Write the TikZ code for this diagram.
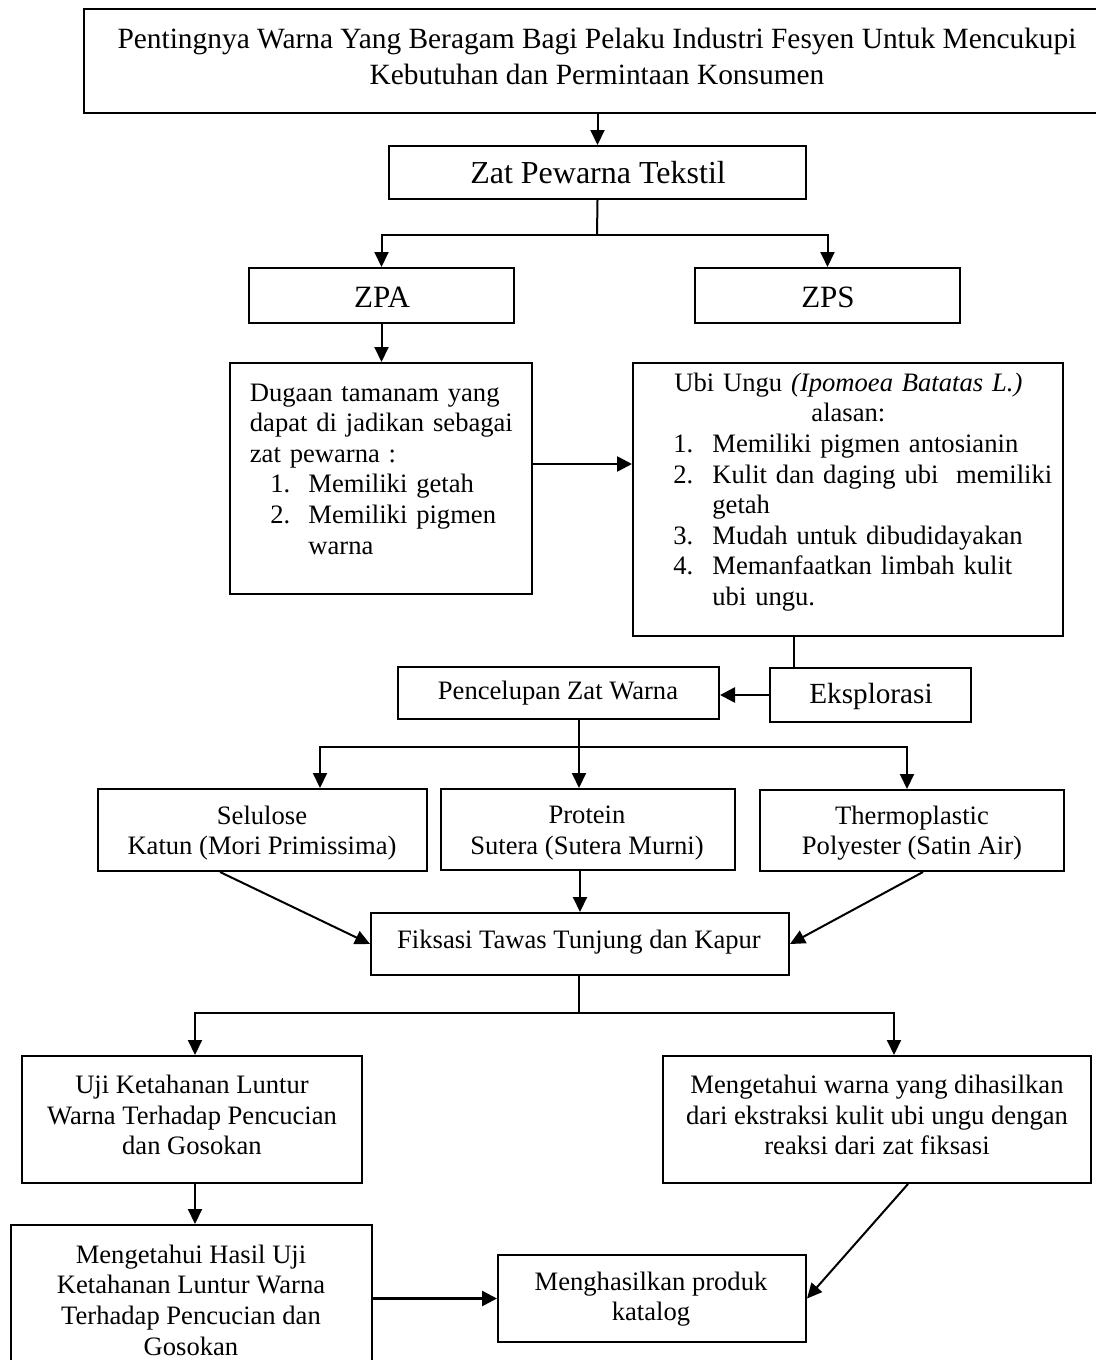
\documentclass[tikz,border=0pt]{standalone}
\usepackage{fontspec}
\setmainfont{Liberation Serif}
\usetikzlibrary{arrows.meta,fit,calc}
\tikzset{
  box/.style={draw, line width=1pt, inner sep=0pt},
  txt/.style={inner sep=0pt, align=center, font=\fontsize{13.3}{15.3}\selectfont},
  bigtxt/.style={inner sep=0pt, align=center, font=\fontsize{16}{18}\selectfont},
  conn/.style={line width=1pt},
  arr/.style={line width=1pt, -{Triangle[length=7.5pt,width=7pt]}},
  thickarr/.style={line width=1.3pt, -{Triangle[length=7.5pt,width=7.5pt]}},
}
\begin{document}
\begin{tikzpicture}[x=0.5pt,y=-0.5pt]
\useasboundingbox (0,0) rectangle (1096,1360);
\clip (0,0) rectangle (1096,1360);
\fill[white] (0,0) rectangle (1096,1360);

% boxes
\node[box, line width=1.4pt, fit={(84,9)(1110,113)}] (top) {};
\node[box, fit={(389,146)(806,199)}] (zat) {};
\node[box, fit={(249,268)(514,323)}] (zpa) {};
\node[box, fit={(695,268)(960,323)}] (zps) {};
\node[box, fit={(230,363)(532,594)}] (dug) {};
\node[box, fit={(633,363)(1063,636)}] (ubi) {};
\node[box, fit={(398,667)(719,719)}] (pen) {};
\node[box, fit={(770,668)(971,722)}] (eks) {};
\node[box, fit={(98,789)(427,871)}] (sel) {};
\node[box, fit={(441,789)(735,870)}] (pro) {};
\node[box, fit={(760,790)(1064,871)}] (the) {};
\node[box, fit={(371,913)(789,975)}] (fik) {};
\node[box, fit={(22,1056)(362,1183)}] (uji) {};
\node[box, fit={(663,1056)(1091,1183)}] (mw) {};
\node[box, fit={(11,1225)(372,1390)}] (has) {};
\node[box, fit={(498,1255)(806,1342)}] (men) {};

% texts
\node[inner sep=0pt, align=center, font=\fontsize{14.7}{18}\selectfont] (ttop) at (597,56)
  {Pentingnya Warna Yang Beragam Bagi Pelaku Industri Fesyen Untuk Mencukupi\\Kebutuhan dan Permintaan Konsumen};
\node[bigtxt] (tzat) at (598,173) {Zat Pewarna Tekstil};
\node[bigtxt, font=\fontsize{15.5}{18}\selectfont] (tzpa) at (382,297) {ZPA};
\node[bigtxt, font=\fontsize{15.5}{18}\selectfont] (tzps) at (828,297) {ZPS};
\node[txt, anchor=west, align=left, text width=130pt] (tdug) at (249.5,469)
  {\makebox[130pt][s]{Dugaan tamanam yang}\\
   \makebox[130pt][s]{dapat di jadikan sebagai}\\
   zat pewarna :\\
   \hspace*{10.25pt}\makebox[19pt][l]{1.}Memiliki getah\\
   \hspace*{10.25pt}\makebox[19pt][l]{2.}Memiliki pigmen\\
   \hspace*{29.25pt}warna};
\node[txt, anchor=west, align=left, text width=190pt] (tubi) at (673,492)
  {\makebox[175pt][c]{Ubi Ungu \textit{(Ipomoea Batatas L.)}}\\
   \makebox[175pt][c]{alasan:}\\
   \makebox[19.5pt][l]{1.}Memiliki pigmen antosianin\\
   \makebox[19.5pt][l]{2.}Kulit dan daging ubi \ memiliki\\
   \hspace*{19.5pt}getah\\
   \makebox[19.5pt][l]{3.}Mudah untuk dibudidayakan\\
   \makebox[19.5pt][l]{4.}Memanfaatkan limbah kulit\\
   \hspace*{19.5pt}ubi ungu.};
\node[txt] (tpen) at (558,693) {Pencelupan Zat Warna};
\node[txt, font=\fontsize{14.6}{16}\selectfont] (teks) at (871,696) {Eksplorasi};
\node[txt] (tsel) at (262,833) {Selulose\\Katun (Mori Primissima)};
\node[txt] (tpro) at (587,833) {Protein\\Sutera (Sutera Murni)};
\node[txt] (tthe) at (912,833) {Thermoplastic\\Polyester (Satin Air)};
\node[txt] (tfik) at (579,942) {Fiksasi Tawas Tunjung dan Kapur};
\node[txt] (tuji) at (192,1115) {Uji Ketahanan Luntur\\Warna Terhadap Pencucian\\dan Gosokan};
\node[txt] (tmw) at (877,1115) {Mengetahui warna yang dihasilkan\\dari ekstraksi kulit ubi ungu dengan\\reaksi dari zat fiksasi};
\node[txt] (thas) at (191,1300) {Mengetahui Hasil Uji\\Ketahanan Luntur Warna\\Terhadap Pencucian dan\\Gosokan};
\node[txt] (tmen) at (651,1299) {Menghasilkan produk\\katalog};

% helper coordinates
\coordinate (ja) at (597,235);
\coordinate (cx1) at (794,0);
\coordinate (cx2) at (579,747);
\coordinate (cx3) at (320,0);
\coordinate (cx4) at (907,0);
\coordinate (cx5) at (220,0);
\coordinate (cx6) at (923,0);
\coordinate (jb) at (579,1013);
\coordinate (cx7) at (195,0);
\coordinate (cx8) at (894,0);
\coordinate (cx9) at (908,0);
\coordinate (cy1) at (0,464);

% connectors
\draw[arr] (zat.north |- top.south) -- (zat.north);
\draw[conn] (zat.south) -- (ja);
\draw[arr] (ja) -| (zpa.north);
\draw[arr] (ja) -| (zps.north);
\draw[arr] (zpa.south) -- (zpa.south |- dug.north);
\draw[thickarr] (dug.east |- cy1) -- (ubi.west |- cy1);
\draw[conn] (ubi.south -| cx1) -- (eks.north -| cx1);
\draw[thickarr] (eks.west) -- (eks.west -| pen.east);
\draw[conn] (pen.south -| cx2) -- (cx2);
\draw[arr] (cx2) -| (sel.north -| cx3);
\draw[arr] (cx2) -- (pro.north -| cx2);
\draw[arr] (cx2) -| (the.north -| cx4);
\draw[arr] (sel.south -| cx5) -- (fik.west);
\draw[arr] (pro.south -| fik.north) -- (fik.north);
\draw[arr] (the.south -| cx6) -- (fik.east);
\draw[conn] (fik.south -| jb) -- (jb);
\draw[arr] (jb) -| (uji.north -| cx7);
\draw[arr] (jb) -| (mw.north -| cx8);
\draw[arr] (uji.south -| cx7) -- (has.north -| cx7);
\draw[thickarr] (has.east |- men.west) -- (men.west);
\draw[arr] (mw.south -| cx9) -- (men.east);
\end{tikzpicture}
\end{document}
